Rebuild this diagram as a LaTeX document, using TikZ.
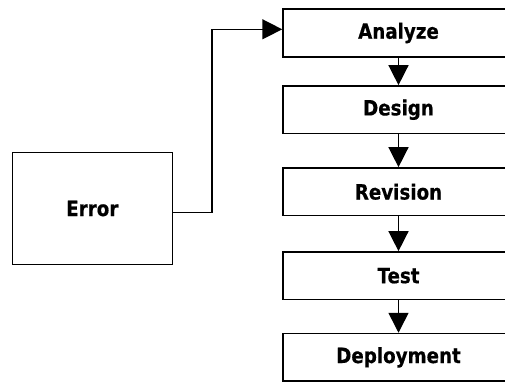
\documentclass[tikz,border=0pt]{standalone}
\usepackage{fontspec}
\setmainfont{DejaVu Sans}[FakeStretch=0.87,BoldFeatures={FakeBold=0.5}]
\usetikzlibrary{arrows.meta}

\begin{document}
\begin{tikzpicture}[x=1pt,y=-1pt,
  stage/.style={draw=black, line width=1.5pt, minimum width=231pt, minimum height=47.6pt,
                inner sep=0pt, font=\fontsize{21}{24}\selectfont\bfseries},
  errbox/.style={draw=black, line width=1.5pt, minimum width=160pt, minimum height=111.6pt,
                 inner sep=0pt, font=\fontsize{21}{24}\selectfont\bfseries},
  flow/.style={line width=1.5pt, -{Triangle[width=20pt,length=20pt]}}]
  \useasboundingbox (0,0) rectangle (505,381);

  % process stages
  \node[stage] (analyze)  at (398.5,33)    {Analyze};
  \node[stage] (design)   at (398.5,109.7) {Design};
  \node[stage] (revision) at (398.5,191.7) {Revision};
  \node[stage] (test)     at (398.5,275.7) {Test};
  \node[stage] (deploy)   at (398.5,357.3) {Deployment};

  % error state
  \node[errbox] (error) at (92.3,208.5) {Error};

  % sequential flow
  \draw[flow] (analyze) -- (design);
  \draw[flow] (design) -- (revision);
  \draw[flow] (revision) -- (test);
  \draw[flow] (test) -- (deploy);

  % feedback from error back to analysis
  \coordinate (errout) at ([yshift=-3.8pt]error.east);
  \coordinate (anin) at ([yshift=3.7pt]analyze.west);
  \draw[flow] (errout) -- (212,0 |- errout) -- (212,0 |- anin) -- (anin);
\end{tikzpicture}
\end{document}
